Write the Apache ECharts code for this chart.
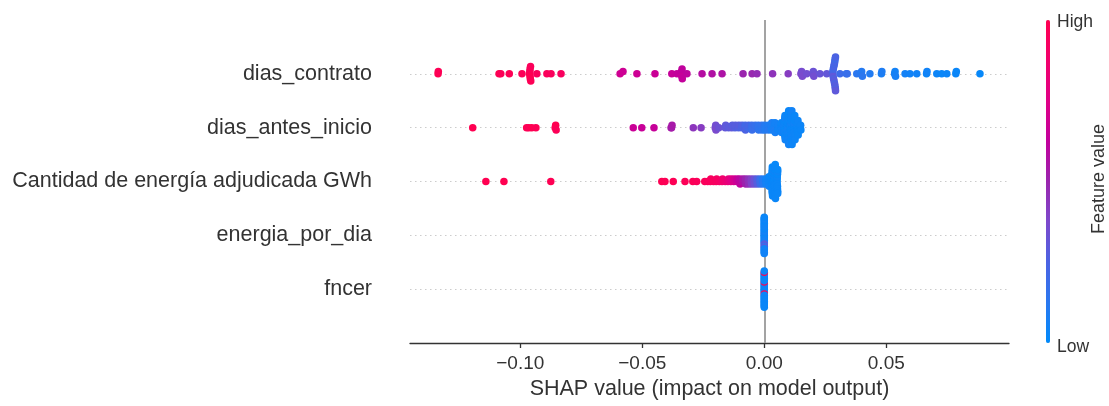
<!DOCTYPE html>
<html>
<head>
<meta charset="utf-8">
<script src="https://cdn.jsdelivr.net/npm/echarts@6/dist/echarts.min.js"></script>
<style>
  html, body { margin: 0; padding: 0; background: #ffffff; }
  #chart { width: 1109px; height: 406px; }
</style>
</head>
<body>
<div id="chart"></div>
<script>
// Feature names, bottom row first
const features = ['fncer', 'energia_por_dia', 'Cantidad de energía adjudicada GWh', 'dias_antes_inicio', 'dias_contrato'];
// x-axis tick values
const xTicks = [-0.10, -0.05, 0.00, 0.05];
// colour bar labels
const colorLabels = { high: 'High', low: 'Low', title: 'Feature value' };
const xTitle = 'SHAP value (impact on model output)';

// Each point: [SHAP value, normalised feature value (0 = low, 1 = high)]
const contratoPoints = [
  [-0.1337,1.00],[-0.1336,0.98],
  [-0.1087,1.00],[-0.1080,0.97],[-0.1045,0.98],
  [-0.0993,0.97],
  [-0.0962,0.99],[-0.0961,0.96],[-0.0960,1.00],[-0.0960,0.97],[-0.0959,0.99],[-0.0958,0.96],[-0.0957,0.98],
  [-0.0932,0.95],
  [-0.0891,0.96],[-0.0874,0.95],
  [-0.0833,0.94],
  [-0.0591,0.68],[-0.0579,0.67],
  [-0.0522,0.67],
  [-0.0448,0.66],
  [-0.0379,0.64],[-0.0358,0.63],[-0.0340,0.63],[-0.0339,0.62],[-0.0338,0.64],[-0.0337,0.62],[-0.0336,0.63],[-0.0317,0.61],
  [-0.0255,0.58],[-0.0214,0.57],[-0.0173,0.56],
  [-0.0087,0.50],[-0.0050,0.49],[-0.0030,0.47],
  [0.0034,0.45],[0.0098,0.42],
  [0.0150,0.38],[0.0153,0.36],[0.0156,0.37],[0.0174,0.35],[0.0199,0.34],[0.0201,0.33],[0.0203,0.35],[0.0228,0.32],[0.0256,0.31],
  [0.0280,0.28],[0.0281,0.24],[0.0282,0.30],[0.0283,0.22],[0.0284,0.27],[0.0285,0.25],[0.0286,0.29],[0.0287,0.23],
  [0.0288,0.26],[0.0289,0.24],[0.0290,0.28],[0.0290,0.21],[0.0291,0.27],[0.0292,0.25],[0.0292,0.30],
  [0.0310,0.20],[0.0336,0.17],[0.0340,0.18],
  [0.0379,0.13],[0.0396,0.12],[0.0399,0.11],[0.0402,0.13],[0.0433,0.10],
  [0.0480,0.08],[0.0482,0.09],
  [0.0534,0.07],[0.0536,0.06],[0.0538,0.07],
  [0.0577,0.06],[0.0597,0.05],[0.0625,0.05],
  [0.0665,0.04],[0.0667,0.05],
  [0.0707,0.04],[0.0727,0.03],[0.0748,0.04],
  [0.0785,0.03],[0.0787,0.03],
  [0.0884,0.02]
];

const antesPoints = [
  [-0.1195,1.00],
  [-0.0974,0.99],[-0.0965,0.97],[-0.0953,1.00],[-0.0936,0.98],
  [-0.0857,0.98],[-0.0855,1.00],[-0.0853,0.97],
  [-0.0537,0.66],[-0.0502,0.65],[-0.0452,0.64],
  [-0.0382,0.55],[-0.0380,0.53],[-0.0378,0.54],
  [-0.0291,0.44],[-0.0259,0.42],
  [-0.0201,0.36],[-0.0199,0.35],[-0.0198,0.37],
  [-0.0186,0.33],
  [-0.0160,0.31],[-0.0158,0.30],
  [-0.0146,0.29],
  [-0.0133,0.30],[-0.0131,0.28],
  [-0.0120,0.27],[-0.0118,0.28],
  [-0.0106,0.26],[-0.0104,0.28],
  [-0.0093,0.25],[-0.0091,0.26],
  [-0.0080,0.24],[-0.0078,0.22],[-0.0077,0.25],
  [-0.0066,0.21],[-0.0064,0.23],
  [-0.0053,0.20],[-0.0051,0.19],[-0.0050,0.18],
  [-0.0039,0.18],[-0.0037,0.17],
  [-0.0026,0.16],[-0.0024,0.15],[-0.0023,0.14],
  [-0.0012,0.14],[-0.0010,0.15],[-0.0009,0.13],
  [0.0001,0.12],[0.0002,0.11],[0.0003,0.10],
  [0.0015,0.10],[0.0016,0.09],[0.0017,0.11],
  [0.0028,0.08],[0.0029,0.09],[0.0030,0.07],[0.0031,0.08],
  [0.0041,0.07],[0.0042,0.06],[0.0043,0.08],[0.0044,0.06],[0.0045,0.07],
  [0.0055,0.05],[0.0056,0.06],[0.0056,0.05],
  [0.0068,0.05],[0.0069,0.04],[0.0069,0.05],[0.0070,0.04],[0.0071,0.05],
  [0.0081,0.04],[0.0081,0.05],[0.0082,0.03],[0.0082,0.04],[0.0083,0.05],[0.0083,0.03],[0.0084,0.04],[0.0084,0.05],[0.0085,0.03],[0.0085,0.04],[0.0086,0.05],
  [0.0094,0.03],[0.0094,0.04],[0.0095,0.05],[0.0095,0.03],[0.0096,0.04],[0.0096,0.03],[0.0096,0.05],[0.0097,0.04],[0.0097,0.03],[0.0098,0.04],[0.0098,0.05],[0.0099,0.03],[0.0099,0.04],[0.0100,0.03],[0.0100,0.05],
  [0.0107,0.03],[0.0107,0.04],[0.0108,0.03],[0.0108,0.05],[0.0109,0.04],[0.0109,0.03],[0.0110,0.04],[0.0110,0.03],[0.0111,0.05],[0.0111,0.04],[0.0112,0.03],[0.0112,0.04],[0.0113,0.03],[0.0113,0.05],[0.0114,0.04],
  [0.0121,0.03],[0.0121,0.04],[0.0122,0.03],[0.0122,0.05],[0.0123,0.04],[0.0123,0.03],[0.0124,0.04],[0.0124,0.03],[0.0125,0.04],[0.0125,0.03],[0.0126,0.04],
  [0.0134,0.03],[0.0135,0.04],[0.0136,0.03],[0.0137,0.04],[0.0137,0.03],[0.0138,0.04],[0.0139,0.03],
  [0.0148,0.03],[0.0149,0.04],[0.0150,0.03]
];

const cantidadPoints = [
  [-0.1141,1.00],[-0.1067,1.00],[-0.0875,0.99],
  [-0.0420,0.99],[-0.0407,0.98],
  [-0.0373,0.98],
  [-0.0325,0.97],
  [-0.0293,0.97],[-0.0277,0.96],
  [-0.0244,0.96],
  [-0.0232,0.95],
  [-0.0221,0.95],[-0.0219,0.94],
  [-0.0208,0.94],
  [-0.0197,0.93],[-0.0195,0.92],
  [-0.0184,0.91],
  [-0.0173,0.88],[-0.0171,0.87],
  [-0.0160,0.85],
  [-0.0149,0.82],[-0.0147,0.80],
  [-0.0137,0.77],[-0.0135,0.75],
  [-0.0125,0.72],[-0.0123,0.70],
  [-0.0113,0.67],[-0.0111,0.65],
  [-0.0102,0.62],[-0.0101,0.60],[-0.0099,0.61],
  [-0.0090,0.57],[-0.0088,0.55],
  [-0.0078,0.52],[-0.0077,0.50],[-0.0076,0.51],
  [-0.0066,0.47],[-0.0065,0.45],[-0.0064,0.46],
  [-0.0054,0.41],[-0.0053,0.40],[-0.0052,0.39],
  [-0.0042,0.35],[-0.0041,0.33],[-0.0040,0.34],
  [-0.0030,0.29],[-0.0029,0.27],[-0.0028,0.28],
  [-0.0018,0.20],[-0.0017,0.18],[-0.0016,0.19],
  [-0.0006,0.12],[-0.0005,0.10],[-0.0004,0.11],
  [0.0006,0.06],[0.0007,0.05],[0.0008,0.06],
  [0.0018,0.04],[0.0018,0.05],[0.0019,0.04],[0.0019,0.03],[0.0020,0.05],
  [0.0029,0.03],[0.0030,0.04],[0.0030,0.03],[0.0031,0.02],[0.0031,0.03],[0.0031,0.04],[0.0032,0.03],[0.0032,0.02],[0.0032,0.03],[0.0033,0.04],[0.0033,0.03],[0.0033,0.02],[0.0034,0.03],
  [0.0041,0.03],[0.0041,0.02],[0.0042,0.03],[0.0042,0.04],[0.0042,0.03],[0.0043,0.02],[0.0043,0.03],[0.0043,0.04],[0.0044,0.03],[0.0044,0.02],[0.0044,0.03],[0.0045,0.04],[0.0045,0.03],[0.0045,0.02],[0.0046,0.03],
  [0.0052,0.03],[0.0053,0.02],[0.0053,0.03],[0.0053,0.04],[0.0054,0.03],[0.0054,0.02],[0.0054,0.03],[0.0055,0.04],[0.0055,0.03],[0.0055,0.02],[0.0055,0.03]
];

const energiaPoints = [
  [0,0.04],[0,0.05],[0,0.03],[0,0.06],[0,0.04],[0,0.05],[0,0.03],[0,0.06],
  [0,0.05],[0,0.04],[0,0.06],[0,0.03],[0,0.05],[0,0.04],[0,0.22],[0,0.05],
  [0,0.30],[0,0.04],[0,0.18],[0,0.05],[0,0.28],[0,0.04],[0,0.06],[0,0.03],
  [0,0.05],[0,0.04],[0,0.06],[0,0.05],[0,0.04],[0,0.03],[0,0.05]
];

const fncerPoints = [
  [0,0.03],[0,0.03],[0,0.03],[0,0.03],[0,0.03],[0,0.03],[0,0.03],[0,0.03],
  [0,1.00],[0,0.03],[0,0.03],[0,1.00],[0,0.03],[0,0.03],[0,0.03],[0,0.03],
  [0,0.03],[0,0.03],[0,0.03],[0,0.03],[0,0.03],[0,0.03],[0,0.03],[0,0.03],
  [0,0.03],[0,0.03],[0,0.03],[0,1.00],[0,0.03],[0,0.03],[0,0.03]
];

// SHAP red-blue colormap stops (low -> high)
const cmap = ['#008bfb', '#2a78f0', '#4b63e3', '#7d49cc', '#9a25ae', '#c2009c', '#e00086', '#f2006c', '#ff0051'];

// beeswarm layout as done by shap.summary_plot (row_height 0.4, 100 bins)
function beeswarm(vals, rowHeight) {
  const N = vals.length;
  const mn = Math.min(...vals), mx = Math.max(...vals);
  const quant = vals.map(v => Math.round(100 * (v - mn) / (mx - mn + 1e-8)));
  const inds = vals.map((_, i) => i).sort((a, b) => (quant[a] - quant[b]) || (a - b));
  const ys = new Array(N).fill(0);
  let layer = 0, last = -1;
  for (const i of inds) {
    if (quant[i] !== last) layer = 0;
    ys[i] = Math.ceil(layer / 2) * ((layer % 2) * 2 - 1);
    layer++;
    last = quant[i];
  }
  const m = Math.max(...ys.map(y => y + 1));
  return ys.map(y => y * 0.9 * (rowHeight / m));
}

const FONT = '"Liberation Sans", Arial, Helvetica, sans-serif';
const TXT = '#333333';

const rows = [fncerPoints, energiaPoints, cantidadPoints, antesPoints, contratoPoints];
const series = rows.map((pts, r) => {
  const offs = beeswarm(pts.map(p => p[0]), 0.4);
  return {
    type: 'scatter',
    name: features[r],
    symbol: 'circle',
    symbolSize: 7.5,
    z: 3,
    animation: false,
    itemStyle: { opacity: 1 },
    data: pts.map((p, i) => [p[0], r + offs[i], p[1]])
  };
});

// guide lines (dotted row lines + zero line), drawn under the points
series.unshift({
  type: 'scatter',
  data: [],
  z: 1,
  silent: true,
  animation: false,
  markLine: {
    z: 1,
    silent: true,
    symbol: 'none',
    animation: false,
    label: { show: false },
    data: features.map((f, i) => ({ yAxis: i, lineStyle: { color: '#cccccc', width: 1.2, type: [1.5, 3.5] } }))
      .concat([{ xAxis: 0, lineStyle: { color: '#999999', width: 1.8, type: 'solid' } }])
  }
});

const chart = echarts.init(document.getElementById('chart'), null, { renderer: 'canvas' });
chart.setOption({
  backgroundColor: '#ffffff',
  animation: false,
  grid: { left: 410, right: 100, top: 20, bottom: 63, containLabel: false },
  xAxis: {
    type: 'value',
    min: -0.1452,
    max: 0.1003,
    axisLine: { show: true, onZero: false, lineStyle: { color: '#333333', width: 1.3 } },
    axisTick: { show: true, customValues: xTicks, length: 5, lineStyle: { color: '#333333', width: 1.3 } },
    axisLabel: {
      customValues: xTicks,
      margin: 11,
      color: TXT,
      fontSize: 19,
      fontFamily: FONT,
      formatter: v => (v < 0 ? '\u2212' : '') + Math.abs(v).toFixed(2)
    },
    splitLine: { show: false },
    name: xTitle,
    nameLocation: 'middle',
    nameGap: 34,
    nameTextStyle: { color: TXT, fontSize: 21.5, fontFamily: FONT }
  },
  yAxis: {
    type: 'value',
    min: -1,
    max: 5,
    interval: 1,
    axisLine: { show: false, onZero: false },
    axisTick: { show: false },
    splitLine: { show: false },
    axisLabel: {
      margin: 38,
      color: TXT,
      fontSize: 21.5,
      fontFamily: FONT,
      formatter: v => (v >= 0 && v < features.length) ? features[v] : ''
    }
  },
  visualMap: {
    type: 'continuous',
    min: 0,
    max: 1,
    dimension: 2,
    seriesIndex: [1, 2, 3, 4, 5],
    inRange: { color: cmap },
    orient: 'vertical',
    left: 1046,
    top: 20,
    itemWidth: 4,
    itemHeight: 323,
    padding: 0,
    calculable: false,
    hoverLink: false,
    realtime: false,
    show: true
  },
  graphic: [
    { type: 'text', x: 1057, y: 22, silent: true,
      style: { text: colorLabels.high, fill: TXT, fontSize: 17.5, fontFamily: FONT, align: 'left', verticalAlign: 'middle' } },
    { type: 'text', x: 1057, y: 347, silent: true,
      style: { text: colorLabels.low, fill: TXT, fontSize: 17.5, fontFamily: FONT, align: 'left', verticalAlign: 'middle' } },
    { type: 'text', x: 1099, y: 179, rotation: Math.PI / 2, silent: true,
      style: { text: colorLabels.title, fill: TXT, fontSize: 18, fontFamily: FONT, align: 'center', verticalAlign: 'middle' } }
  ],
  series: series
});
</script>
</body>
</html>
